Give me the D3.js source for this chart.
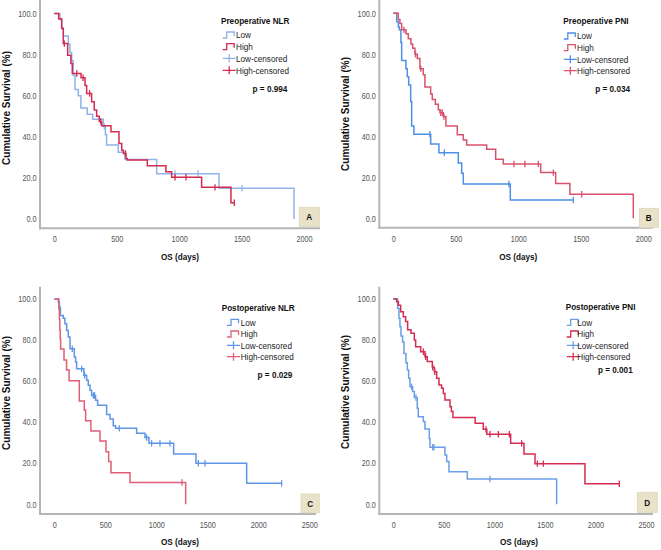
<!DOCTYPE html>
<html>
<head>
<meta charset="utf-8">
<script src="https://cdn.jsdelivr.net/npm/d3@7"></script>
<style>
  html, body { margin: 0; padding: 0; background: #fff; }
  svg { display: block; font-family: "Liberation Sans", Arial, sans-serif; }
</style>
</head>
<body>
<svg id="chart" width="661" height="550"></svg>
<script>
// ---------------- DATA ----------------
const X_TICKS_PRE = [0, 500, 1000, 1500, 2000];
const X_TICKS_POST = [0, 500, 1000, 1500, 2000, 2500];
const Y_TICKS = [0, 20, 40, 60, 80, 100];
const LEGEND_LABELS = ["Low", "High", "Low-censored", "High-censored"];
const PANEL_TITLES = ["Preoperative NLR", "Preoperative PNI", "Postoperative NLR", "Postoperative PNI"];
const P_VALUES = ["p = 0.994", "p = 0.034", "p = 0.029", "p = 0.001"];
const PANEL_LETTERS = ["A", "B", "C", "D"];
const X_TITLE = "OS (days)";
const Y_TITLE = "Cumulative Survival (%)";

// Panel A: Preoperative NLR
const preNLR_low_time = [0,45,60,72,112,125,139,152,166,192,213,264,307,392,409,419,512,566,820,1319,1920];
const preNLR_low_surv = [100,97,93,89,85,81,77,70,63,60,54,51,48.5,45,41,36,32.5,29,22,15,0];
const preNLR_low_cens = [400,967,1151,1503];
const preNLR_high_time = [0,35,59,72,107,133,144,214,246,259,299,320,339,360,379,454,518,540,553,574,585,745,894,940,1180,1415];
const preNLR_high_surv = [100,97.5,92.7,85.4,79.7,75.7,70.8,68.7,65,61.1,57,53,50,47.5,45.4,42.5,36.8,33.5,31.9,29.5,28.7,25.9,23,20.3,15.4,7.9];
const preNLR_high_cens = [80,180,230,283,372,570,967,1055,1287,1442];

// Panel B: Preoperative PNI
const prePNI_low_time = [0,27,40,48,61,67,101,112,123,139,147,165,299,365,520,547,560,936];
const prePNI_low_surv = [100,96,93.5,92,85.7,77,73,69,65,57,45,41,36.3,32,27,22,16.7,8.9];
const prePNI_low_cens = [293,408,925,1440];
const prePNI_high_time = [0,40,53,67,101,120,141,155,173,192,213,240,253,299,312,336,360,373,400,421,512,560,587,747,819,880,1179,1299,1413,1920];
const prePNI_high_surv = [100,97,95,92,90,87.6,85,83,80,78,73,70,64,60.6,58,55.6,53,51.5,49.6,45,40.7,38.2,35.8,33.7,28.8,26.5,22.3,17,11.7,0];
const prePNI_high_cens = [85,178,220,380,392,405,965,1053,1160,1280,1507];

// Panel C: Postoperative NLR
const postNLR_low_time = [0,39,50,60,88,104,121,137,154,196,209,219,290,317,333,350,366,405,425,513,546,578,600,807,889,928,1170,1389,1886];
const postNLR_low_surv = [100,98.5,96,92,90.6,88,84.7,81.5,75.8,71.7,69.3,66,62.8,60.4,58,55.5,53,50.7,48.2,43.8,41.6,38.3,37,34.6,32.5,29.7,24.5,20,10.2];
const postNLR_low_cens = [176,268,297,383,395,637,905,954,1036,1134,1412,1477,2229];
const postNLR_high_time = [0,45,50,54,58,62,95,120,145,245,294,307,359,448,507,533,556,742,1288];
const postNLR_high_surv = [100,95,90,85,80.8,75.6,70.3,65.4,60.2,50.3,45.9,40.7,35.7,30.8,25.6,20.8,15.4,10.6,0];
const postNLR_high_cens = [1252];

// Panel D: Postoperative PNI
const postPNI_low_time = [0,43,56,66,76,92,106,125,139,152,165,191,208,237,247,297,313,356,363,511,528,551,732,1616];
const postPNI_low_surv = [100,95.5,90.6,86.5,82,79,73.5,69,65.4,61.4,57.3,55,52,46.8,42.7,40.3,36.7,32,27.8,24,20.8,15.9,12.3,0];
const postPNI_low_cens = [181,224,389,402,956];
const postPNI_high_time = [0,33,50,73,99,122,142,175,208,221,271,313,336,386,406,429,452,478,495,511,561,575,590,810,890,925,1161,1293,1402,1896];
const postPNI_high_surv = [100,98.7,97,93.8,91.4,89,85,83.3,80,76.8,74.3,71.9,69.5,66.7,64.6,61.4,58.1,56.5,54,50.8,47.5,45.2,42.3,39.5,36.5,34.1,29.7,24.5,19.8,10];
const postPNI_high_cens = [297,320,390,410,917,956,1039,1148,1270,1425,1484,2236];

// ---------------- LAYOUT / STYLE ----------------
const panels = [
  { ticks: X_TICKS_PRE, xmax: 2000,
    low: [preNLR_low_time, preNLR_low_surv, preNLR_low_cens],
    high: [preNLR_high_time, preNLR_high_surv, preNLR_high_cens],
    lowColor: "#8fb3ea", highColor: "#d42b4f",
    yAxisX: 40, yAxisTop: 0, xAxisY: 228.3, xAxisRight: 320,
    xr: [54.3, 304], yr: [219, 13.5], tickPad: 8,
    yLab: [10, 108], xLab: [180, 256.7],
    leg: { titleX: 221, titleY: 21, symX: 222.7, textX: 236, rows: [35, 46.7, 58.3, 70.3] },
    p: [287.3, 88.3], box: [299.3, 207.3, 20, 19.4] },
  { ticks: X_TICKS_PRE, xmax: 2000,
    low: [prePNI_low_time, prePNI_low_surv, prePNI_low_cens],
    high: [prePNI_high_time, prePNI_high_surv, prePNI_high_cens],
    lowColor: "#4f8fe6", highColor: "#d9526c",
    yAxisX: 379.3, yAxisTop: 0, xAxisY: 227.7, xAxisRight: 653,
    xr: [393.3, 643.3], yr: [218.3, 13.3], tickPad: 8,
    yLab: [348.5, 114], xLab: [518.3, 256.7],
    leg: { titleX: 563.3, titleY: 21, symX: 563.8, textX: 577, rows: [36, 47.7, 59.3, 70.7] },
    p: [630, 89], box: [639.3, 208.3, 19, 19.4] },
  { ticks: X_TICKS_POST, xmax: 2500,
    low: [postNLR_low_time, postNLR_low_surv, postNLR_low_cens],
    high: [postNLR_high_time, postNLR_high_surv, postNLR_high_cens],
    lowColor: "#5e95e6", highColor: "#df5f76",
    yAxisX: 40, yAxisTop: 286.7, xAxisY: 514, xAxisRight: 316,
    xr: [54.3, 309.3], yr: [504.3, 299], tickPad: 7.5,
    yLab: [10, 393], xLab: [180, 541.7],
    leg: { titleX: 221.7, titleY: 307.3, symX: 227, textX: 240.7, rows: [322.3, 334, 345.3, 356.7] },
    p: [292.3, 374.3], box: [301, 494, 18.3, 18.7] },
  { ticks: X_TICKS_POST, xmax: 2500,
    low: [postPNI_low_time, postPNI_low_surv, postPNI_low_cens],
    high: [postPNI_high_time, postPNI_high_surv, postPNI_high_cens],
    lowColor: "#6a9ee8", highColor: "#d62c51",
    yAxisX: 379.3, yAxisTop: 286.7, xAxisY: 514, xAxisRight: 653,
    xr: [393.3, 646], yr: [504.3, 299], tickPad: 7.5,
    yLab: [348.5, 392], xLab: [519, 541.7],
    leg: { titleX: 565.7, titleY: 307, symX: 566.7, textX: 577.3, rows: [322.3, 334, 345.3, 356.7] },
    p: [632.7, 369.3], box: [637.3, 492.3, 20, 20] }
];

const SX = 0.86;          // horizontal squeeze of the original raster text
const AXIS_COLOR = "#b5b5b5";
const svg = d3.select("#chart");
svg.append("rect").attr("width", 661).attr("height", 550).attr("fill", "#fff");

function htext(g, x, y, str, size, weight, anchor, fill) {
  return g.append("text")
    .attr("transform", `translate(${x},${y}) scale(${SX},1)`)
    .attr("text-anchor", anchor || "start")
    .attr("font-size", size + "px")
    .attr("font-weight", weight || "normal")
    .attr("fill", fill || "#111")
    .text(str);
}

function survAt(times, surv, t) {
  let s = surv[0];
  for (let i = 0; i < times.length; i++) { if (times[i] <= t) s = surv[i]; else break; }
  return s;
}

panels.forEach((P, idx) => {
  const g = svg.append("g");
  const x = d3.scaleLinear().domain([0, P.xmax]).range(P.xr);
  const y = d3.scaleLinear().domain([0, 100]).range(P.yr);

  // axes (ticks labels only)
  const yAx = g.append("g").attr("transform", `translate(${P.yAxisX},0)`)
    .call(d3.axisLeft(y).tickValues(Y_TICKS).tickSize(0).tickPadding(4).tickFormat(d3.format(".1f")));
  const xAx = g.append("g").attr("transform", `translate(0,${P.xAxisY})`)
    .call(d3.axisBottom(x).tickValues(P.ticks).tickSize(0).tickPadding(P.tickPad).tickFormat(d3.format("d")));
  [yAx, xAx].forEach(a => {
    a.select(".domain").remove();
    a.selectAll("text")
      .attr("font-size", "8.5px")
      .attr("font-family", "'Liberation Sans', Arial, sans-serif")
      .attr("fill", "#555")
      .attr("transform", `scale(${SX},1)`);
  });

  // axis lines
  g.append("line").attr("x1", P.yAxisX).attr("x2", P.yAxisX)
    .attr("y1", P.yAxisTop).attr("y2", P.xAxisY + 1)
    .attr("stroke", AXIS_COLOR).attr("stroke-width", 2);
  g.append("line").attr("x1", P.yAxisX - 1).attr("x2", P.xAxisRight)
    .attr("y1", P.xAxisY).attr("y2", P.xAxisY)
    .attr("stroke", AXIS_COLOR).attr("stroke-width", 2);

  // curves
  const line = d3.line().x(d => x(d[0])).y(d => y(d[1])).curve(d3.curveStepAfter);
  [[P.low, P.lowColor], [P.high, P.highColor]].forEach(([ser, col]) => {
    const [times, surv, cens] = ser;
    const pts = times.map((t, i) => [t, surv[i]]);
    const lastT = times[times.length - 1];
    const maxC = cens.length ? d3.max(cens) : 0;
    if (maxC > lastT) pts.push([maxC, surv[surv.length - 1]]);
    g.append("path").attr("d", line(pts)).attr("fill", "none")
      .attr("stroke", col).attr("stroke-width", 1.5);
    g.selectAll(null).data(cens).enter().append("line")
      .attr("x1", d => x(d)).attr("x2", d => x(d))
      .attr("y1", d => y(survAt(times, surv, d)) - 3.2)
      .attr("y2", d => y(survAt(times, surv, d)) + 3.2)
      .attr("stroke", col).attr("stroke-width", 1.3);
  });

  // axis titles
  g.append("text")
    .attr("transform", `translate(${P.yLab[0]},${P.yLab[1]}) rotate(-90)`)
    .attr("text-anchor", "middle").attr("font-size", "10px").attr("font-weight", "bold")
    .attr("fill", "#111").text(Y_TITLE);
  htext(g, P.xLab[0], P.xLab[1] + 3.3, X_TITLE, 9.5, "bold", "middle");

  // legend
  const L = P.leg;
  htext(g, L.titleX, L.titleY + 3.3, PANEL_TITLES[idx], 9.5, "bold", "start");
  const legColors = [P.lowColor, P.highColor, P.lowColor, P.highColor];
  LEGEND_LABELS.forEach((lab, i) => {
    const cy = L.rows[i], sx = L.symX, col = legColors[i];
    if (i < 2) {
      g.append("path")
        .attr("d", `M${sx},${cy + 3}H${sx + 4}V${cy - 3}H${sx + 11.5}V${cy + 1}`)
        .attr("fill", "none").attr("stroke", col).attr("stroke-width", 1.3);
    } else {
      g.append("path")
        .attr("d", `M${sx},${cy}H${sx + 13}M${sx + 6.5},${cy - 4}V${cy + 4}`)
        .attr("fill", "none").attr("stroke", col).attr("stroke-width", 1.3);
    }
    htext(g, L.textX, cy + 3.3, lab, 9.5, "normal", "start", "#222");
  });

  // p value
  htext(g, P.p[0], P.p[1] + 3.3, P_VALUES[idx], 9.5, "bold", "end");

  // panel letter box
  const b = P.box;
  g.append("rect").attr("x", b[0]).attr("y", b[1]).attr("width", b[2]).attr("height", b[3])
    .attr("fill", "#e8e2c8").attr("stroke", "#ddd6b8").attr("stroke-width", 0.8);
  htext(g, b[0] + b[2] / 2, b[1] + b[3] / 2 + 3.4, PANEL_LETTERS[idx], 9.5, "bold", "middle");
});
</script>
</body>
</html>
